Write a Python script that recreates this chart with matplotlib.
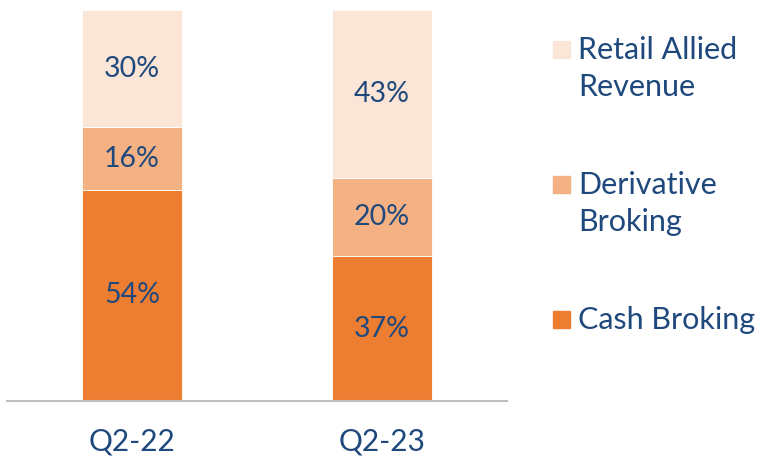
import matplotlib.pyplot as plt
from matplotlib.patches import Rectangle

# Revenue mix by quarter (percent)
quarters = ['Q2-22', 'Q2-23']
cash_broking = [54, 37]
derivative_broking = [16, 20]
retail_allied = [30, 43]

series_names = ['Cash Broking', 'Derivative Broking', 'Retail Allied Revenue']
legend_labels = ['Retail Allied\nRevenue', 'Derivative\nBroking', 'Cash Broking']

cores = ['#ED7D31', '#F4B183', '#FBE5D6']
texto = '#1F497D'

plt.rcParams['font.family'] = ['Lato', 'DejaVu Sans']

fig = plt.figure(figsize=(7.69, 4.61), dpi=100)
ax = fig.add_axes([7 / 769, 60 / 461, 500 / 769, 391 / 461])

x = range(len(quarters))
bottom = [0, 0]
for valores, cor in zip([cash_broking, derivative_broking, retail_allied], cores):
    bars = ax.bar(x, valores, width=0.4, bottom=bottom, color=cor,
                  edgecolor='white', linewidth=0.6)
    for b, v in zip(bars, valores):
        ax.text(b.get_x() + b.get_width() / 2, b.get_y() + b.get_height() / 2,
                f'{v}%', ha='center', va='center', fontsize=20.5, color=texto)
    bottom = [b0 + v for b0, v in zip(bottom, valores)]

ax.set_xlim(-0.5, 1.5)
ax.set_ylim(0, 100)
ax.set_xticks(list(x))
ax.set_xticklabels(quarters, fontsize=21.5, color=texto)
ax.tick_params(axis='x', length=0, pad=19)
ax.set_yticks([])
for lado in ['top', 'right', 'left']:
    ax.spines[lado].set_visible(False)
ax.spines['bottom'].set_color('#BFBFBF')
ax.spines['bottom'].set_linewidth(1.5)

# legenda manual (marcador alinhado com a primeira linha)
topos = [41, 176, 311]
cores_leg = [cores[2], cores[1], cores[0]]
for lab, cor, y in zip(legend_labels, cores_leg, topos):
    fig.add_artist(Rectangle((553 / 769, 1 - (y + 17) / 461), 17 / 769, 17 / 461,
                             transform=fig.transFigure, color=cor))
    fig.text(578 / 769, 1 - (y - 5) / 461, lab, ha='left', va='top',
             fontsize=22, color=texto, linespacing=1.4)

plt.savefig('out.png', dpi=100)
